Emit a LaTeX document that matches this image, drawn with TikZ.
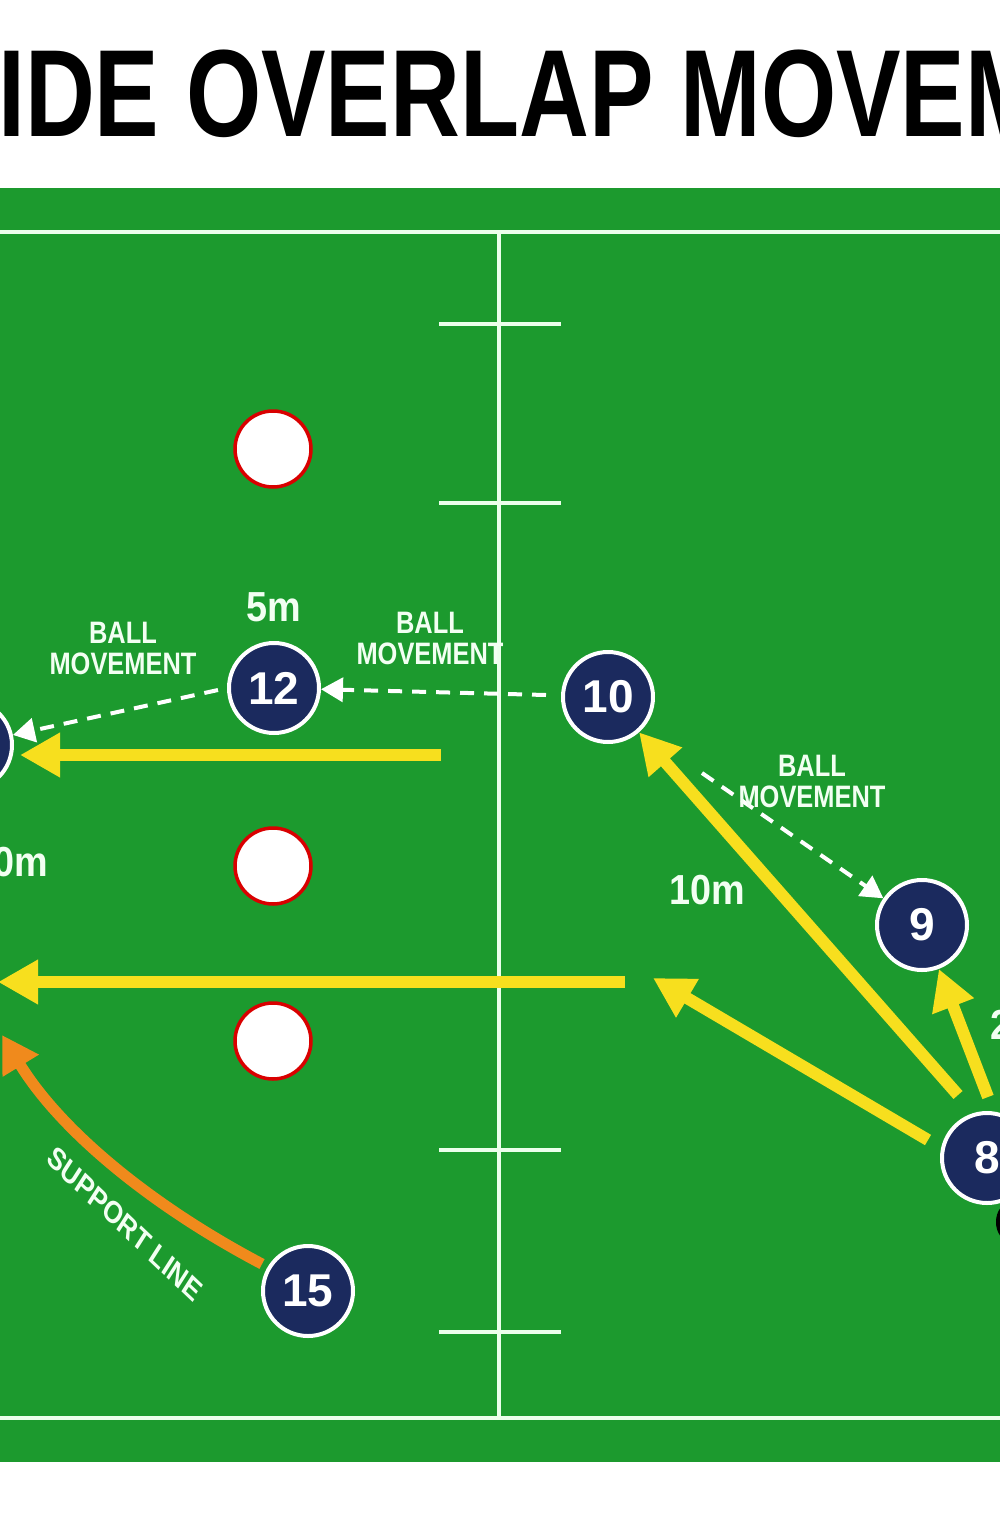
\documentclass[tikz,border=0pt]{standalone}
\usepackage{fontspec}
\setmainfont{Liberation Sans}
\usetikzlibrary{arrows.meta}
\begin{document}
\begin{tikzpicture}[x=1pt,y=-1pt,
  fieldline/.style={draw=white!92!green,line width=3.5pt},
  cone/.style={circle,draw=red!85!black,line width=3.5pt,fill=white,minimum size=76pt,inner sep=0pt},
  player/.style={circle,draw=white,line width=4pt,fill=navy,minimum size=90pt,inner sep=0pt,text=white,font=\bfseries\fontsize{46}{46}\selectfont},
  yarrow/.style={draw=yel,line width=12pt,-{Triangle[length=40pt,width=42pt]}},
  darrow/.style={draw=white,line width=4pt,dash pattern=on 14pt off 10pt,-{Triangle[length=22pt,width=24pt]}},
  lbl/.style={text=white!95!green,font=\bfseries\fontsize{31}{31}\selectfont,align=center,inner sep=0pt,xscale=0.82},
  dist/.style={text=white!95!green,font=\bfseries\fontsize{42}{42}\selectfont,inner sep=0pt,xscale=0.9}]
\definecolor{navy}{HTML}{1B2A5E}
\definecolor{yel}{HTML}{F7DF1E}
\definecolor{grass}{HTML}{1C9A2E}
\definecolor{orng}{HTML}{F08A1C}
\clip (0,0) rectangle (1000,1536);
\fill[white] (0,0) rectangle (1000,1536);
\node[anchor=base west,inner sep=0pt,font=\bfseries\fontsize{124}{124}\selectfont,xscale=0.78] (title) at (-2,137) {\llap{S}IDE OVERLAP MOVEMENT};
\fill[grass] (0,188) rectangle (1000,1462);
\draw[fieldline] (-5,232) -- (1005,232);
\draw[fieldline] (-5,1418) -- (1005,1418);
\draw[fieldline] (499,232) -- (499,1418);
\foreach \y in {324,503,1150,1332} \draw[fieldline] (439,\y) -- (561,\y);
\node[cone] (c1) at (273,449) {};
\node[cone] (c2) at (273,866) {};
\node[cone] (c3) at (273,1041) {};
\node[player] (p12) at (274,688) {12};
\node[player] (p10) at (608,697) {10};
\node[player] (p9) at (922,925) {9};
\node[player] (p8) at (987,1158) {8};
\node[player] (p15) at (308,1291) {15};
\node[player] (p11) at (-33,745) {};
\fill[black] (1008,1222) ellipse (12pt and 18pt);
\coordinate (a1s) at (441,755); \coordinate (a1e) at (20,755);
\coordinate (a2s) at (625,982); \coordinate (a2e) at (-2,982);
\draw[yarrow] (a1s) -- (a1e);
\draw[yarrow] (a2s) -- (a2e);
\coordinate (s8a) at (928,1140); \coordinate (e8a) at (653,978);
\draw[yarrow] (s8a) -- (e8a);
\coordinate (s8b) at (958,1095);
\draw[yarrow] (s8b) -- (p10);
\coordinate (s8c) at (988,1097);
\draw[yarrow] (s8c) -- (p9);
\coordinate (d1) at (546,695); \coordinate (d2) at (218,690);
\coordinate (d3) at (702,773);
\draw[darrow] (d1) -- (p12);
\draw[darrow] (d2) -- (p11);
\draw[darrow] (d3) -- (p9);
\coordinate (o1) at (262,1264); \coordinate (o2) at (2,1035);
\draw[draw=orng,line width=11pt,-{Triangle[length=36pt,width=40pt]}] (o1) .. controls (150,1205) and (60,1130) .. (o2);
\node[lbl] (b1) at (123,648) {BALL\\MOVEMENT};
\node[lbl] (b2) at (430,638) {BALL\\MOVEMENT};
\node[lbl] (b3) at (812,781) {BALL\\MOVEMENT};
\node[dist] (m5) at (274,607) {5m};
\node[dist] (m10) at (707,890) {10m};
\node[dist,anchor=east] (m10b) at (48,862) {10m};
\node[dist,anchor=west] (m2) at (990,1025) {2};
\node[lbl,rotate=-38,font=\bfseries\fontsize{31}{31}\selectfont] (sl) at (125,1224) {SUPPORT LINE};
\end{tikzpicture}
\end{document}
